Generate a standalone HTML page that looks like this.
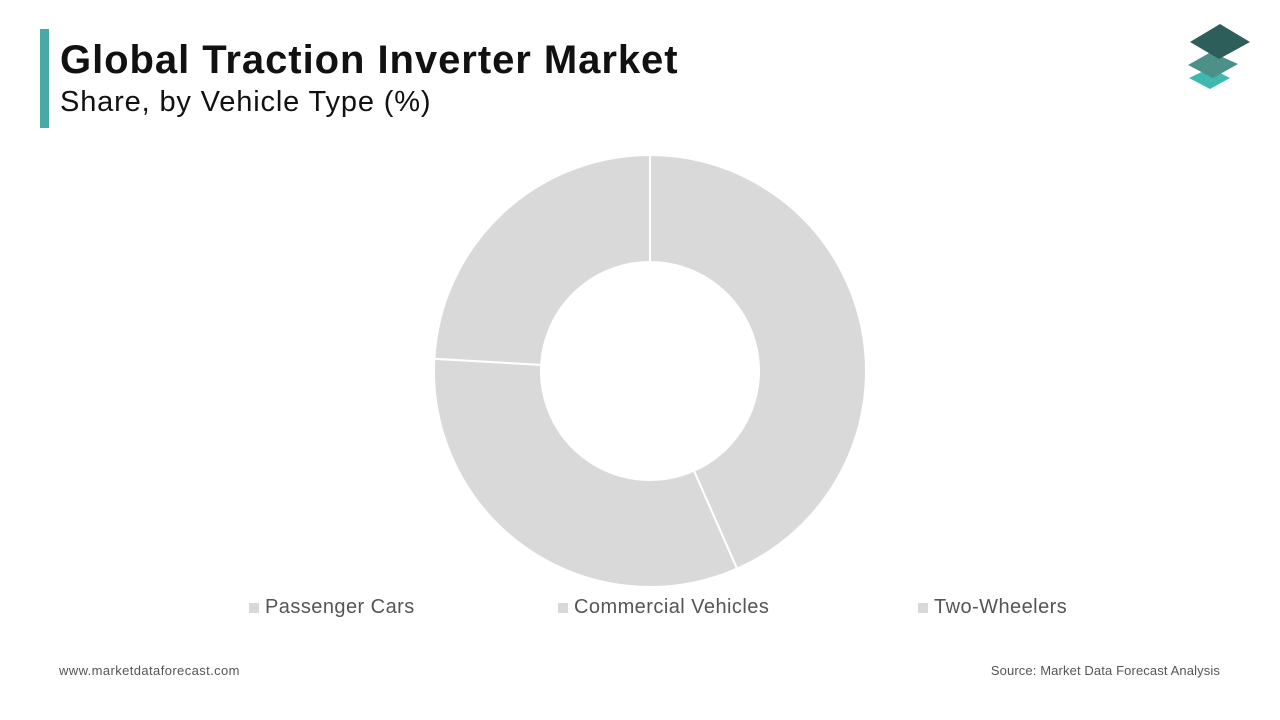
<!DOCTYPE html>
<html><head><meta charset="utf-8"><style>
body{margin:0;width:1280px;height:720px;background:#fff;font-family:"Liberation Sans",sans-serif;position:relative;overflow:hidden}
.t{position:absolute;white-space:nowrap}
</style></head><body>
<div style="position:absolute;left:40px;top:29px;width:9px;height:99px;background:#4aa9a5"></div>
<div class="t" style="left:60px;top:38px;font-size:40px;font-weight:bold;color:#111;letter-spacing:0.95px">Global Traction Inverter Market</div>
<div class="t" style="left:60px;top:86px;font-size:29px;color:#111;letter-spacing:0.85px">Share, by Vehicle Type (%)</div>
<svg style="position:absolute;left:1180px;top:20px" width="80" height="75">
<polygon points="30,48 50,58 30,69 9,58" fill="#3fb8b2"/>
<polygon points="31,32 58,44 33,58 8,45" fill="#4d8f89"/>
<polygon points="40,4 70,22 39,39 10,22" fill="#2e5e59"/>
</svg>
<svg id="chart" style="position:absolute;left:0;top:0" width="1280" height="720"></svg>
<div>
<div class="t" style="left:249px;top:596px;font-size:20px;color:#555;letter-spacing:0.45px"><span style="display:inline-block;width:10px;height:10px;background:#d9d9d9;margin-right:6px"></span>Passenger Cars</div>
<div class="t" style="left:558px;top:596px;font-size:20px;color:#555;letter-spacing:0.45px"><span style="display:inline-block;width:10px;height:10px;background:#d9d9d9;margin-right:6px"></span>Commercial Vehicles</div>
<div class="t" style="left:918px;top:596px;font-size:20px;color:#555;letter-spacing:0.45px"><span style="display:inline-block;width:10px;height:10px;background:#d9d9d9;margin-right:6px"></span>Two-Wheelers</div>
</div>
<div class="t" style="left:59px;top:663px;font-size:13px;color:#555;letter-spacing:0.4px">www.marketdataforecast.com</div>
<div class="t" style="right:60px;top:663px;font-size:13px;color:#555;letter-spacing:0.12px">Source: Market Data Forecast Analysis</div>
<script>
const categories=["Passenger Cars","Commercial Vehicles","Two-Wheelers"];
const values=[43.4,32.5,24.1];
const svg=document.getElementById('chart');
const cx=650,cy=371,R=216,r=109;
const total=values.reduce((a,b)=>a+b,0);
function pt(a,rad){return [cx+rad*Math.sin(a),cy-rad*Math.cos(a)];}
let acc=0;
values.forEach((v,i)=>{
 const a0=acc/total*2*Math.PI;acc+=v;const a1=acc/total*2*Math.PI;
 const L=(a1-a0)>Math.PI?1:0;
 const p0=pt(a0,R),p1=pt(a1,R),q1=pt(a1,r),q0=pt(a0,r);
 const p=document.createElementNS('http://www.w3.org/2000/svg','path');
 p.setAttribute('d',`M${p0[0]},${p0[1]}A${R},${R} 0 ${L} 1 ${p1[0]},${p1[1]}L${q1[0]},${q1[1]}A${r},${r} 0 ${L} 0 ${q0[0]},${q0[1]}Z`);
 p.setAttribute('fill','#d9d9d9');p.setAttribute('stroke','#fff');p.setAttribute('stroke-width','2');
 
 
 svg.appendChild(p);
});
</script>
</body></html>
